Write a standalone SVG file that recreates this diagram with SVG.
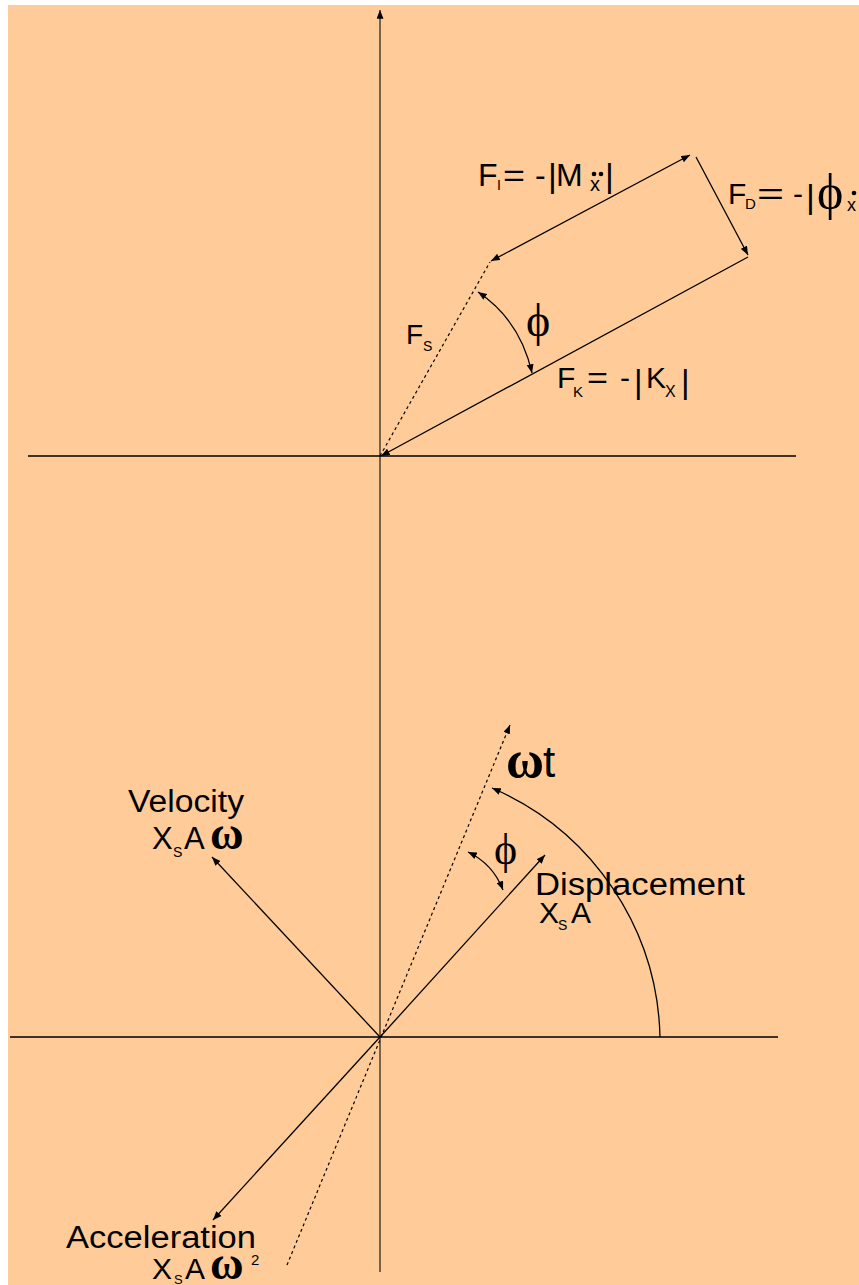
<svg xmlns="http://www.w3.org/2000/svg" width="859" height="1285" viewBox="0 0 859 1285">
<style>
.ln{stroke:#000;stroke-width:1.3;fill:none}
.dot{stroke:#000;stroke-width:1.2;fill:none;stroke-dasharray:3,3}
.axv{stroke:#7a6248;stroke-width:2;fill:none}
.s{font-family:"Liberation Sans",Arial,sans-serif;fill:#000}
.g{font-family:"Liberation Serif","Times New Roman",serif;fill:#000}
</style>
<defs>
<marker id="ah" viewBox="0 0 10 8" refX="10" refY="4" markerWidth="9" markerHeight="7" markerUnits="userSpaceOnUse" orient="auto-start-reverse"><path d="M0,0 L10,4 L0,8 z" fill="#000"/></marker>
</defs>
<rect x="8" y="5" width="851" height="1280" fill="#FFCC99"/>
<g id="connectors">
<line class="axv" x1="380" y1="1272" x2="380" y2="10" marker-end="url(#ah)"/>
<line class="ln" x1="28" y1="456" x2="796" y2="456"/>
<line class="ln" x1="10" y1="1037" x2="778" y2="1037"/>
<line class="ln" x1="748" y1="257" x2="381" y2="456" marker-end="url(#ah)"/>
<line class="ln" x1="690" y1="155" x2="491" y2="261" marker-start="url(#ah)" marker-end="url(#ah)"/>
<line class="ln" x1="696" y1="157" x2="748" y2="255" marker-end="url(#ah)"/>
<line class="dot" x1="380" y1="456" x2="490" y2="262"/>
<path class="ln" d="M478,292 Q520,320 532,373" marker-start="url(#ah)" marker-end="url(#ah)"/>
<line class="ln" x1="380" y1="1037" x2="545" y2="855" marker-end="url(#ah)"/>
<line class="ln" x1="380" y1="1037" x2="212" y2="857" marker-end="url(#ah)"/>
<line class="ln" x1="380" y1="1037" x2="213" y2="1220" marker-end="url(#ah)"/>
<line class="dot" x1="287" y1="1265" x2="510" y2="725" marker-end="url(#ah)"/>
<path class="ln" d="M660,1037 A278,278 0 0 0 492,788" marker-end="url(#ah)"/>
<path class="ln" d="M468,852 Q493,864 503,890" marker-start="url(#ah)" marker-end="url(#ah)"/>
</g>
<g id="label-FI">
<text class="s" x="478" y="186" font-size="32">F</text>
<text class="s" x="497" y="190" font-size="14">I</text>
<text class="s" x="503" y="186" font-size="32" textLength="22" lengthAdjust="spacingAndGlyphs">=</text>
<text class="s" x="535" y="186" font-size="32">-</text>
<text class="s" x="548" y="187" font-size="34">|</text>
<text class="s" x="556" y="186" font-size="32">M</text>
<text class="s" x="590" y="191" font-size="20">x</text>
<circle cx="594" cy="174" r="2.3"/><circle cx="601" cy="174" r="2.3"/>
<text class="s" x="605" y="187" font-size="34">|</text>
</g>
<g id="label-FD">
<text class="s" x="728" y="204" font-size="30">F</text>
<text class="s" x="745" y="209" font-size="15">D</text>
<text class="s" x="757" y="204" font-size="30" textLength="27" lengthAdjust="spacingAndGlyphs">=</text>
<text class="s" x="793" y="204" font-size="30">-</text>
<text class="s" x="806" y="208" font-size="34">|</text>
<text class="g" x="817" y="209" font-size="50">ϕ</text>
<text class="s" x="847" y="211" font-size="18">x</text>
<circle cx="854" cy="193" r="2.3"/>
</g>
<g id="label-FS">
<text class="s" x="406" y="344" font-size="28">F</text>
<text class="s" x="423" y="351" font-size="14">S</text>
</g>
<g id="label-phi-upper">
<text class="g" x="526" y="336" font-size="46">ϕ</text>
</g>
<g id="label-FK">
<text class="s" x="557" y="388" font-size="30">F</text>
<text class="s" x="573" y="397" font-size="15">K</text>
<text class="s" x="587" y="388" font-size="30" textLength="21" lengthAdjust="spacingAndGlyphs">=</text>
<text class="s" x="620" y="388" font-size="30">-</text>
<text class="s" x="634" y="393" font-size="33">|</text>
<text class="s" x="646" y="388" font-size="30">K</text>
<text class="s" x="665" y="397" font-size="16">X</text>
<text class="s" x="681" y="393" font-size="33">|</text>
</g>
<g id="label-wt">
<text class="g" x="506" y="777" font-size="52" font-weight="bold">ω</text>
<text class="s" x="543" y="777" font-size="44">t</text>
</g>
<g id="label-phi-lower">
<text class="g" x="494" y="864" font-size="44">ϕ</text>
</g>
<g id="displacement">
<text class="s" x="535" y="895" font-size="31" textLength="210" lengthAdjust="spacingAndGlyphs">Displacement</text>
<text class="s" x="539" y="923" font-size="30">X</text>
<text class="s" x="558" y="930" font-size="14">S</text>
<text class="s" x="571" y="923" font-size="30">A</text>
</g>
<g id="velocity">
<text class="s" x="128" y="812" font-size="31" textLength="116" lengthAdjust="spacingAndGlyphs">Velocity</text>
<text class="s" x="152" y="849" font-size="31">X</text>
<text class="s" x="173" y="857" font-size="14">S</text>
<text class="s" x="184" y="849" font-size="31">A</text>
<text class="g" x="210" y="849" font-size="46" font-weight="bold">ω</text>
</g>
<g id="acceleration">
<text class="s" x="66" y="1248" font-size="31" textLength="190" lengthAdjust="spacingAndGlyphs">Acceleration</text>
<text class="s" x="152" y="1279" font-size="30">X</text>
<text class="s" x="174" y="1284" font-size="13">S</text>
<text class="s" x="185" y="1279" font-size="30">A</text>
<text class="g" x="210" y="1279" font-size="46" font-weight="bold">ω</text>
<text class="s" x="251" y="1265" font-size="15">2</text>
</g>
</svg>
